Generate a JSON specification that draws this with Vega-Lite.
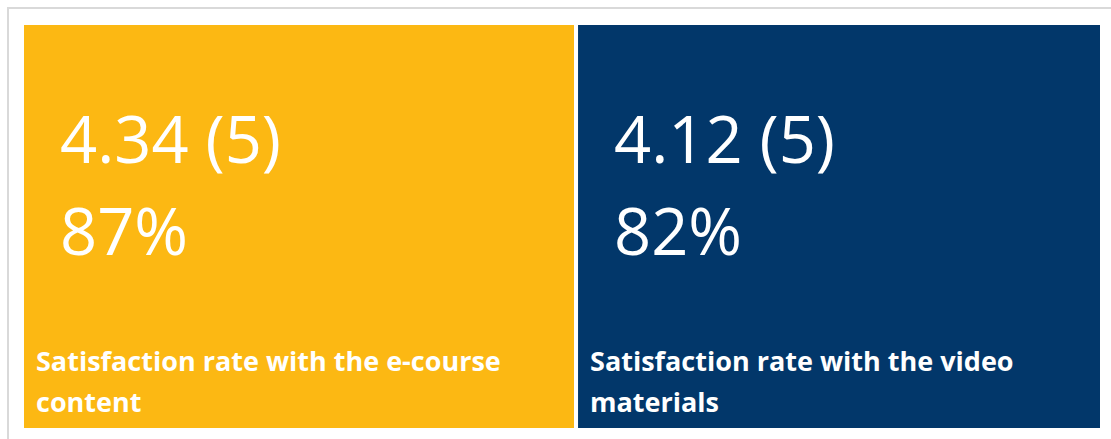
{
  "$schema": "https://vega.github.io/schema/vega-lite/v6.json",
  "autosize": "none",
  "width": 1106,
  "height": 434,
  "padding": {"left": 8, "top": 8, "right": -3, "bottom": -3},
  "background": "white",
  "config": {"view": {"stroke": "#d9d9d9", "strokeWidth": 2}},
  "data": {
    "values": [
      {"label": "Satisfaction rate with the e-course\ncontent", "score": 4.34, "max": 5, "pct": "87%", "value": "4.34 (5)\n87%"},
      {"label": "Satisfaction rate with the video\nmaterials", "score": 4.12, "max": 5, "pct": "82%", "value": "4.12 (5)\n82%"}
    ]
  },
  "transform": [
    {"stack": "score", "groupby": [], "as": ["x0", "x1"], "sort": [{"field": "label", "order": "ascending"}]}
  ],
  "layer": [
    {
      "mark": {"type": "rect", "stroke": "white", "strokeWidth": 4},
      "encoding": {
        "x": {"field": "x0", "type": "quantitative", "scale": {"nice": false, "zero": true, "range": [14, 1094]}, "axis": null},
        "x2": {"field": "x1"},
        "y": {"datum": 0, "type": "quantitative", "scale": {"domain": [0, 1], "range": [422, 15]}, "axis": null},
        "y2": {"datum": 1},
        "color": {"field": "label", "type": "nominal", "scale": {"range": ["#FCB813", "#02376A"]}, "legend": null}
      }
    },
    {
      "mark": {"type": "text", "align": "left", "baseline": "alphabetic", "lineBreak": "\n", "font": "Open Sans", "fontSize": 65, "lineHeight": 92, "color": "white", "dx": 38, "dy": 140},
      "encoding": {
        "x": {"field": "x0", "type": "quantitative"},
        "y": {"datum": 1, "type": "quantitative"},
        "text": {"field": "value"}
      }
    },
    {
      "mark": {"type": "text", "align": "left", "baseline": "alphabetic", "lineBreak": "\n", "font": "Open Sans", "fontWeight": "bold", "fontSize": 27, "lineHeight": 41, "color": "white", "dx": 14, "dy": 348},
      "encoding": {
        "x": {"field": "x0", "type": "quantitative"},
        "y": {"datum": 1, "type": "quantitative"},
        "text": {"field": "label"}
      }
    }
  ]
}
